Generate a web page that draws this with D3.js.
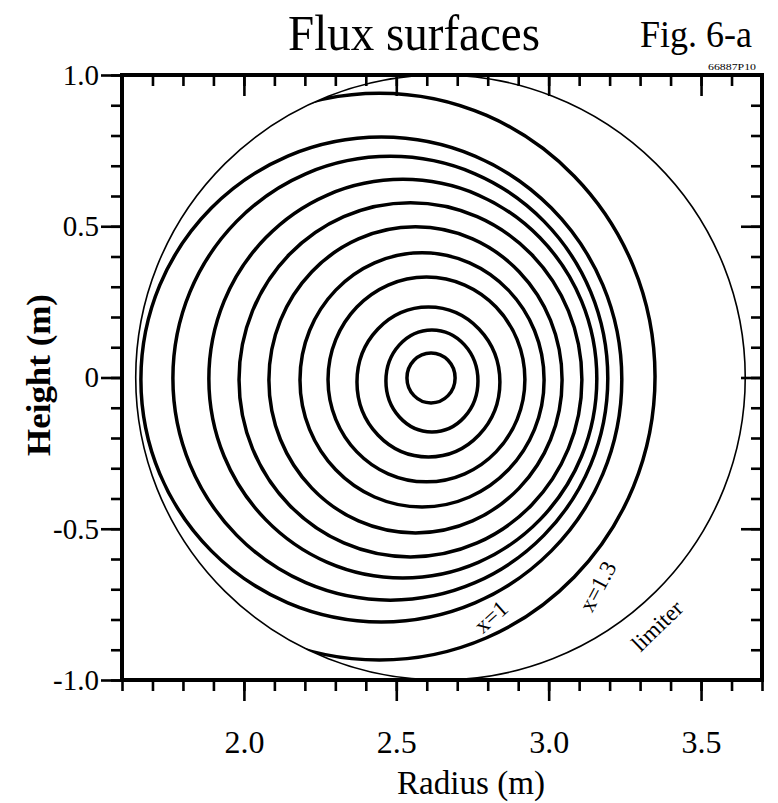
<!DOCTYPE html>
<html><head><meta charset="utf-8">
<script src="https://cdn.jsdelivr.net/npm/d3@7"></script>
<style>body{margin:0;background:#fff} svg{display:block}</style>
</head><body>
<svg id="chart" width="778" height="803"></svg>
<script>
// ---- data ----
const xDomain = [1.6, 3.7];
const yDomain = [-1.0, 1.0];
const xTickMajor = [2.0, 2.5, 3.0, 3.5];
const xTickLabels = ["2.0", "2.5", "3.0", "3.5"];
const yTickMajor = [1.0, 0.5, 0, -0.5, -1.0];
const yTickLabels = ["1.0", "0.5", "0", "-0.5", "-1.0"];
// flux surfaces, innermost to outermost (m)
const surfaceRin  = [2.535, 2.466, 2.371, 2.276, 2.184, 2.082, 1.984, 1.885, 1.767, 1.662, 1.54];
const surfaceRout = [2.693, 2.768, 2.840, 2.922, 2.985, 3.044, 3.109, 3.158, 3.194, 3.240, 3.349];
const surfaceZtop = [0.081, 0.157, 0.233, 0.332, 0.412, 0.498, 0.578, 0.655, 0.731, 0.795, 0.940];
const surfaceZbot = [-0.084, -0.180, -0.263, -0.345, -0.428, -0.514, -0.593, -0.663, -0.736, -0.808, -0.934];
// limiter circle (m)
const limiterR0 = 2.645, limiterZ0 = 0.0, limiterRadius = 1.0;
// annotations
const annoText = ["x=1", "x=1.3", "limiter"];
const annoR = [2.81, 3.16, 3.355];
const annoZ = [-0.79, -0.69, -0.82];
const annoRot = [-42, -62, -44];

// ---- drawing ----
const svg = d3.select("#chart");
const font = "'Liberation Serif','Times New Roman',serif";
const x = d3.scaleLinear().domain(xDomain).range([122, 762]);
const y = d3.scaleLinear().domain(yDomain).range([680, 75]);

const xMinor = d3.range(16, 38).map(d => d / 10);
const yMinor = d3.range(-10, 11).map(d => d / 10);

const defs = svg.append("defs");
defs.append("clipPath").attr("id", "plotClip").append("rect")
  .attr("x", x(xDomain[0])).attr("y", y(yDomain[1]))
  .attr("width", x(xDomain[1]) - x(xDomain[0])).attr("height", y(yDomain[0]) - y(yDomain[1]));
defs.append("clipPath").attr("id", "limClip").append("ellipse")
  .attr("cx", x(limiterR0)).attr("cy", y(limiterZ0))
  .attr("rx", x(limiterR0 + limiterRadius) - x(limiterR0))
  .attr("ry", y(limiterZ0) - y(limiterZ0 + limiterRadius));

const plot = svg.append("g").attr("clip-path", "url(#plotClip)");

// limiter
plot.append("ellipse")
  .attr("cx", x(limiterR0)).attr("cy", y(limiterZ0))
  .attr("rx", x(limiterR0 + limiterRadius) - x(limiterR0))
  .attr("ry", y(limiterZ0) - y(limiterZ0 + limiterRadius))
  .attr("fill", "none").attr("stroke", "#000").attr("stroke-width", 1.6);

// flux surfaces
const ring = d3.line().x(d => x(d[0])).y(d => y(d[1]))
  .curve(d3.curveCardinalClosed.tension(-0.656));
const inner = plot.append("g").attr("clip-path", "url(#limClip)");
surfaceRin.forEach((rin, i) => {
  const rout = surfaceRout[i], zt = surfaceZtop[i], zb = surfaceZbot[i];
  const rm = (rin + rout) / 2, zm = (zt + zb) / 2;
  inner.append("path")
    .attr("d", ring([[rin, zm], [rm, zt], [rout, zm], [rm, zb]]))
    .attr("fill", "none").attr("stroke", "#000").attr("stroke-width", 3.5)
    .attr("stroke-linejoin", "round");
});

// axes
function styleAxis(g) {
  g.select(".domain").remove();
  g.selectAll(".tick line").attr("stroke", "#000").attr("stroke-width", 2.6);
  g.selectAll(".tick text").attr("font-family", font).attr("fill", "#000");
}
const minorLen = 11, majorLen = 21;
const xb = y(yDomain[0]), xt = y(yDomain[1]), yl = x(xDomain[0]), yr = x(xDomain[1]);
// bottom (outward)
svg.append("g").attr("transform", `translate(0,${xb})`)
  .call(d3.axisBottom(x).tickValues(xMinor).tickSize(minorLen).tickFormat("")).call(styleAxis);
svg.append("g").attr("transform", `translate(0,${xb})`)
  .call(d3.axisBottom(x).tickValues(xTickMajor).tickSize(majorLen)
    .tickFormat((d, i) => xTickLabels[i]).tickPadding(29))
  .call(styleAxis)
  .call(g => g.selectAll(".tick text").attr("font-size", 32).attr("dy", "0.71em"));
// top (inward)
svg.append("g").attr("transform", `translate(0,${xt})`)
  .call(d3.axisTop(x).tickValues(xMinor).tickSize(-minorLen).tickFormat("")).call(styleAxis);
svg.append("g").attr("transform", `translate(0,${xt})`)
  .call(d3.axisTop(x).tickValues(xTickMajor).tickSize(-majorLen).tickFormat("")).call(styleAxis);
// left (outward)
svg.append("g").attr("transform", `translate(${yl},0)`)
  .call(d3.axisLeft(y).tickValues(yMinor).tickSize(minorLen).tickFormat("")).call(styleAxis);
svg.append("g").attr("transform", `translate(${yl},0)`)
  .call(d3.axisLeft(y).tickValues(yTickMajor).tickSize(majorLen)
    .tickFormat((d, i) => yTickLabels[i]).tickPadding(2))
  .call(styleAxis)
  .call(g => g.selectAll(".tick text").attr("font-size", 29));
// right (inward)
svg.append("g").attr("transform", `translate(${yr},0)`)
  .call(d3.axisRight(y).tickValues(yMinor).tickSize(-minorLen).tickFormat("")).call(styleAxis);
svg.append("g").attr("transform", `translate(${yr},0)`)
  .call(d3.axisRight(y).tickValues(yTickMajor).tickSize(-majorLen).tickFormat("")).call(styleAxis);

// frame
svg.append("rect")
  .attr("x", yl).attr("y", xt).attr("width", yr - yl).attr("height", xb - xt)
  .attr("fill", "none").attr("stroke", "#000").attr("stroke-width", 4);

// annotations
annoText.forEach((t, i) => {
  svg.append("text")
    .attr("transform", `translate(${x(annoR[i])},${y(annoZ[i])}) rotate(${annoRot[i]})`)
    .attr("text-anchor", "middle").attr("dy", "0.35em")
    .attr("font-family", font).attr("font-size", 23).text(t);
});

// titles
svg.append("text").attr("x", 288).attr("y", 50).attr("font-family", font)
  .attr("font-size", 51).attr("textLength", 252).attr("lengthAdjust", "spacingAndGlyphs")
  .text("Flux surfaces");
svg.append("text").attr("x", 640).attr("y", 47).attr("font-family", font)
  .attr("font-size", 38).attr("textLength", 112).attr("lengthAdjust", "spacingAndGlyphs")
  .text("Fig. 6-a");
svg.append("text").attr("x", 708).attr("y", 70).attr("font-family", font)
  .attr("font-size", 9).attr("textLength", 48).attr("lengthAdjust", "spacingAndGlyphs")
  .text("66887P10");
svg.append("text").attr("x", 397).attr("y", 794).attr("font-family", font)
  .attr("font-size", 34).attr("textLength", 148).attr("lengthAdjust", "spacingAndGlyphs")
  .text("Radius (m)");
svg.append("text").attr("transform", "translate(50,375) rotate(-90)")
  .attr("text-anchor", "middle").attr("font-family", font).attr("font-weight", "bold")
  .attr("font-size", 34).attr("textLength", 162).attr("lengthAdjust", "spacingAndGlyphs")
  .text("Height (m)");
</script>
</body></html>
